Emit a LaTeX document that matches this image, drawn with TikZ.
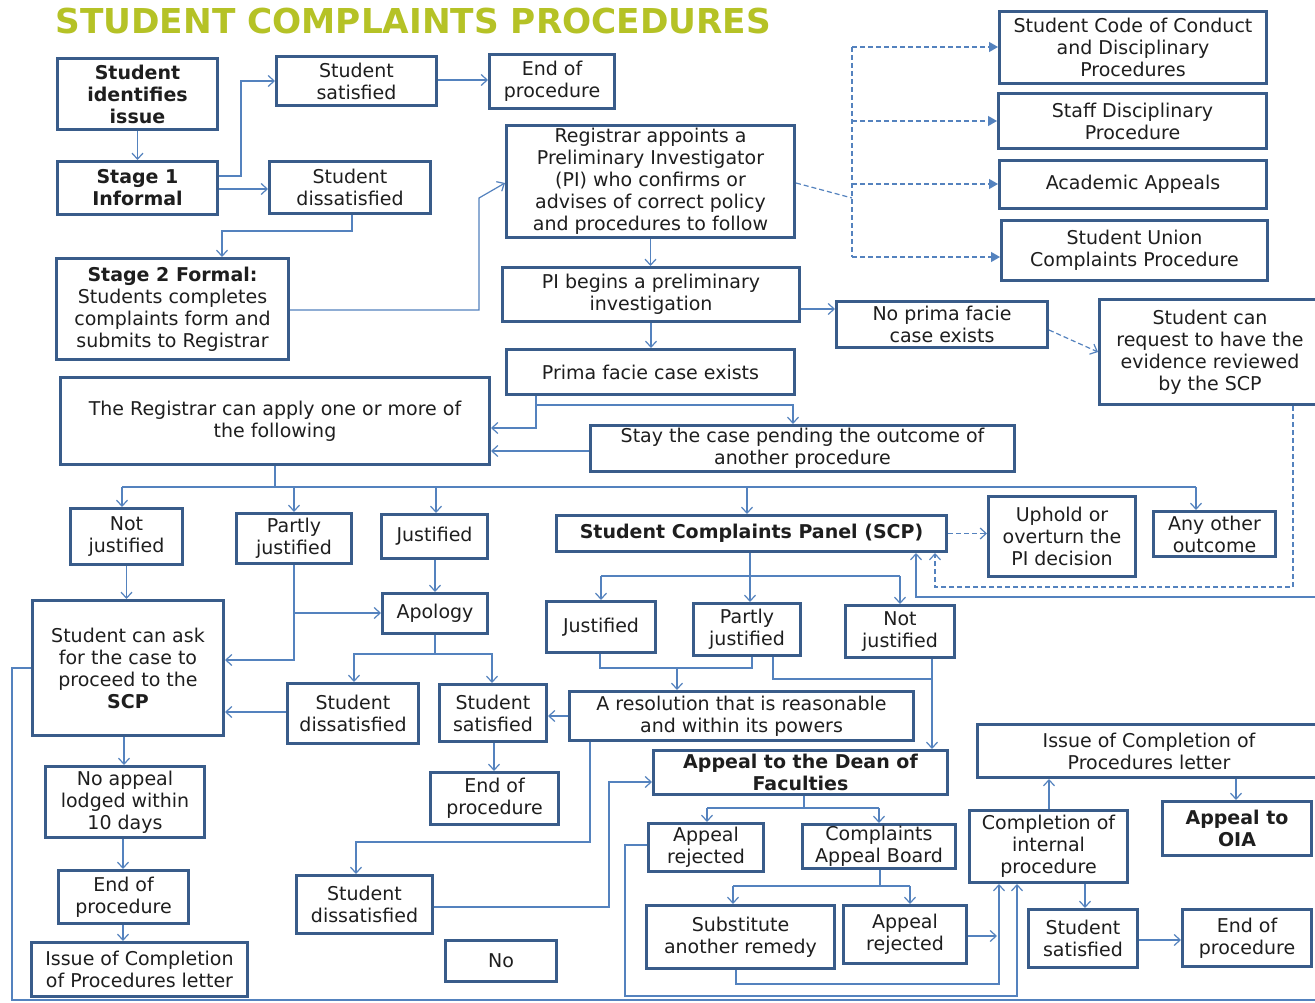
\documentclass[tikz,border=0pt]{standalone}
\usepackage{fontspec}
\setmainfont{DejaVu Sans}
\usetikzlibrary{arrows.meta}
\definecolor{boxc}{RGB}{57,92,138}
\definecolor{linec}{RGB}{84,130,190}
\definecolor{titc}{RGB}{181,194,38}
\definecolor{txtc}{RGB}{30,30,30}
\newcommand\bx[7]{\node[box,#6,minimum width={#4-#2-3},minimum height={#5-#3-3}] (#1) at ({(#2+#4)/2},{(#3+#5)/2}) {#7};}
\tikzset{
 box/.style={draw=boxc, line width=3pt, fill=white, align=center, inner sep=1pt, text=txtc, font=\fontsize{19}{22}\selectfont},
 bbox/.style={font=\fontsize{19}{22}\selectfont\bfseries},
 line/.style={draw=linec, line width=1.2pt},
 conn/.style={line, -{Straight Barb[length=6pt,width=11pt]}},
 dline/.style={line, dash pattern=on 5pt off 3pt},
 dconn/.style={dline, -{Straight Barb[length=6pt,width=11pt]}},
 tconn/.style={dline, -{Triangle[length=9pt,width=10pt]}},
}
\begin{document}
\begin{tikzpicture}[x=1pt,y=-1pt]
\useasboundingbox (0,0) rectangle (1315,1003);
\fill[white] (0,0) rectangle (1315,1003);
\node[anchor=west, text=titc, font=\fontsize{34.3}{38}\selectfont\bfseries] (title) at (52,21) {STUDENT COMPLAINTS PROCEDURES};
% boxes
\bx{sid}{56}{57}{219}{131}{bbox}{Student\\identifies\\issue}
\bx{st1}{56}{160}{219}{216}{bbox}{Stage 1\\Informal}
\bx{ssat1}{275}{55}{438}{107}{}{Student\\satisfied}
\bx{end1}{488}{53}{616}{110}{}{End of\\procedure}
\bx{sdis1}{268}{160}{432}{215}{}{Student\\dissatisfied}
\bx{st2}{55}{257}{290}{361}{}{\textbf{Stage 2 Formal:}\\Students completes\\complaints form and\\submits to Registrar}
\bx{regpi}{505}{124}{796}{239}{}{Registrar appoints a\\Preliminary Investigator\\(PI) who confirms or\\advises of correct policy\\and procedures to follow}
\bx{pib}{501}{266}{801}{323}{}{PI begins a preliminary\\investigation}
\bx{prima}{505}{348}{796}{396}{}{Prima facie case exists}
\bx{scc}{998}{10}{1268}{85}{}{Student Code of Conduct\\and Disciplinary\\Procedures}
\bx{sdp}{997}{92}{1268}{150}{}{Staff Disciplinary\\Procedure}
\bx{aca}{998}{159}{1268}{210}{}{Academic Appeals}
\bx{suc}{1000}{219}{1269}{282}{}{Student Union\\Complaints Procedure}
\bx{nopf}{835}{300}{1049}{349}{}{No prima facie\\case exists}
\bx{req}{1098}{298}{1322}{406}{}{Student can\\request to have the\\evidence reviewed\\by the SCP}
\bx{rega}{59}{376}{491}{466}{}{The Registrar can apply one or more of\\the following}
\bx{stay}{589}{424}{1016}{473}{}{Stay the case pending the outcome of\\another procedure}
\bx{nj1}{69}{507}{184}{566}{}{Not\\justified}
\bx{pj1}{235}{512}{353}{565}{}{Partly\\justified}
\bx{j1}{380}{513}{489}{560}{}{Justified}
\bx{scp}{555}{514}{948}{553}{bbox}{Student Complaints Panel (SCP)}
\bx{uph}{987}{495}{1137}{578}{}{Uphold or\\overturn the\\PI decision}
\bx{any}{1152}{510}{1277}{558}{}{Any other\\outcome}
\bx{apol}{381}{592}{489}{635}{}{Apology}
\bx{ask}{31}{599}{225}{737}{}{Student can ask\\for the case to\\proceed to the\\\textbf{SCP}}
\bx{j2}{545}{600}{657}{654}{}{Justified}
\bx{pj2}{692}{602}{802}{657}{}{Partly\\justified}
\bx{nj2}{844}{604}{956}{659}{}{Not\\justified}
\bx{sdis2}{286}{682}{420}{745}{}{Student\\dissatisfied}
\bx{ssat2}{438}{683}{548}{743}{}{Student\\satisfied}
\bx{res}{568}{690}{915}{742}{}{A resolution that is reasonable\\and within its powers}
\bx{end2}{429}{771}{560}{826}{}{End of\\procedure}
\bx{dean}{652}{749}{949}{796}{bbox}{Appeal to the Dean of\\Faculties}
\bx{icr}{976}{723}{1322}{779}{}{Issue of Completion of\\Procedures letter}
\bx{noap}{44}{765}{206}{839}{}{No appeal\\lodged within\\10 days}
\bx{ar1}{647}{822}{765}{873}{}{Appeal\\rejected}
\bx{cab}{801}{823}{957}{870}{}{Complaints\\Appeal Board}
\bx{comp}{968}{809}{1129}{884}{}{Completion of\\internal\\procedure}
\bx{oia}{1161}{800}{1313}{857}{bbox}{Appeal to\\OIA}
\bx{end3}{57}{869}{190}{925}{}{End of\\procedure}
\bx{sdis3}{295}{874}{434}{935}{}{Student\\dissatisfied}
\bx{sub}{645}{904}{836}{970}{}{Substitute\\another remedy}
\bx{ar2}{842}{904}{968}{965}{}{Appeal\\rejected}
\bx{ssat3}{1027}{908}{1139}{969}{}{Student\\satisfied}
\bx{end4}{1181}{908}{1313}{968}{}{End of\\procedure}
\bx{icl}{30}{941}{249}{998}{}{Issue of Completion\\of Procedures letter}
\bx{no}{444}{939}{558}{983}{}{No}
% connectors top-left
\draw[conn] (sid.south) -- (st1.north);
\draw[conn] (st1.east |- 0,176) -- (241,176) |- (ssat1.west);
\draw[conn] (st1.east |- 0,189) -- (sdis1.west |- 0,189);
\draw[conn] (ssat1.east |- 0,80) -- (end1.west |- 0,80);
\draw[conn] (sdis1.south -| 352,0) -- (352,231) -| (st2.north -| 222,0);
\draw[conn] (st2.east |- 0,310) -- (479,310) -- (479,198) -- (regpi.west |- 0,183);
\draw[conn] (regpi.south) -- (regpi.south |- pib.north);
\draw[conn] (pib.south) -- (pib.south |- prima.north);
\draw[conn] (pib.east |- 0,309) -- (nopf.west |- 0,309);
% dashed to other procedures
\coordinate (dtop) at (852,47);
\coordinate (dbot) at (852,257);
\coordinate (djoin) at (852,198);
\draw[dline] (regpi.east |- 0,183) -- (djoin);
\draw[dline] (dtop) -- (dbot);
\draw[tconn] (dtop) -- (scc.west |- dtop);
\draw[tconn] (852,121) -- (sdp.west |- 0,121);
\draw[tconn] (852,184) -- (aca.west |- 0,184);
\draw[tconn] (dbot) -- (suc.west |- dbot);
\draw[dconn] (nopf.east |- 0,330) -- (req.west |- 0,352);
% prima facie
\draw[conn] (prima.south -| 536,0) -- (536,405) -| (stay.north -| 793,0);
\draw[conn] (536,405) |- (rega.east |- 0,428);
\draw[conn] (stay.west |- 0,451) -- (rega.east |- 0,451);
% registrar options
\draw[line] (rega.south -| 275,0) -- (275,487);
\draw[line] (122,487) -- (1196,487);
\draw[conn] (122,487) -- (nj1.north -| 122,0);
\draw[conn] (294,487) -- (pj1.north -| 294,0);
\draw[conn] (436,487) -- (j1.north -| 436,0);
\draw[conn] (747,487) -- (scp.north -| 747,0);
\draw[conn] (1196,487) -- (any.north -| 1196,0);
\draw[dconn] (scp.east) -- (uph.west |- scp.east);
% left branch
\draw[conn] (nj1.south) -- (nj1.south |- ask.north);
\draw[conn] (pj1.south) |- (ask.east |- 0,660);
\draw[conn] (pj1.south |- 0,613) -- (apol.west |- 0,613);
\draw[conn] (j1.south -| 435,0) -- (apol.north -| 435,0);
\draw[conn] (apol.south) |- (354,654) -- (sdis2.north -| 354,0);
\draw[conn] (apol.south |- 0,654) -| (ssat2.north -| 492,0);
\draw[conn] (sdis2.west |- 0,712) -- (ask.east |- 0,712);
\draw[conn] (ssat2.south -| 494,0) -- (end2.north -| 494,0);
\draw[conn] (ask.south -| 124,0) -- (noap.north -| 124,0);
\draw[conn] (noap.south -| 123,0) -- (end3.north -| 123,0);
\draw[conn] (end3.south -| 123,0) -- (icl.north -| 123,0);
% SCP branch
\draw[line] (scp.south -| 750,0) -- (750,576);
\draw[line] (601,576) -- (900,576);
\draw[conn] (601,576) -- (j2.north -| 601,0);
\draw[conn] (750,576) -- (pj2.north -| 750,0);
\draw[conn] (900,576) -- (nj2.north -| 900,0);
\draw[line] (j2.south -| 600,0) -- (600,668) -- (752,668) -- (pj2.south -| 752,0);
\draw[conn] (677,668) -- (res.north -| 677,0);
\draw[line] (pj2.south -| 773,0) |- (932,679);
\draw[conn] (nj2.south -| 932,0) -- (dean.north -| 932,0);
\draw[conn] (res.west |- 0,716) -- (ssat2.east |- 0,716);
\draw[conn] (res.south -| 590,0) |- (356,842) -- (sdis3.north -| 356,0);
\draw[conn] (sdis3.east |- 0,907) -| (609,782) -- (dean.west |- 0,782);
% feedback loops into SCP
\draw[conn] (ask.west |- 0,668) -- (12,668) -- (12,1000) -- (1322,1000) -- (1322,597) -- (916,597) -- (scp.south -| 916,0);
\draw[dconn] (req.south -| 1293,0) -- (1293,587) -- (935,587) -- (scp.south -| 935,0);
% dean branch
\draw[line] (dean.south -| 804,0) -- (804,808);
\draw[line] (707,808) -- (879,808);
\draw[conn] (707,808) -- (ar1.north -| 707,0);
\draw[conn] (879,808) -- (cab.north -| 879,0);
\draw[line] (cab.south -| 880,0) -- (880,886);
\draw[line] (733,886) -- (910,886);
\draw[conn] (733,886) -- (sub.north -| 733,0);
\draw[conn] (910,886) -- (ar2.north -| 910,0);
\coordinate (arjoin) at (997,936);
\draw[conn] (ar2.east |- arjoin) -- (arjoin);
\draw[conn] (sub.south -| 736,0) |- (999,984) -- (comp.south -| 999,0);
\draw[conn] (ar1.west |- 0,845) -| (625,996) -| (comp.south -| 1017,0);
\draw[conn] (comp.north -| 1049,0) -- (icr.south -| 1049,0);
\draw[conn] (icr.south -| 1236,0) -- (oia.north -| 1236,0);
\draw[conn] (comp.south -| 1085,0) -- (ssat3.north -| 1085,0);
\draw[conn] (ssat3.east |- 0,940) -- (end4.west |- 0,940);
\end{tikzpicture}
\end{document}
